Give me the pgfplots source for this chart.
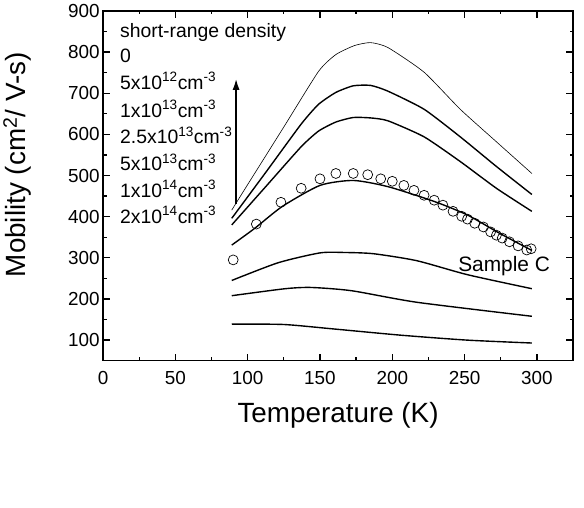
\documentclass[border=0pt]{standalone}
\usepackage{pgfplots}
\pgfplotsset{compat=1.18}
\usetikzlibrary{arrows.meta}
\usepackage{fontspec}
\setmainfont{Liberation Sans}
\begin{document}
\begin{tikzpicture}
\begin{axis}[
  scale only axis, width=473pt, height=352pt,
  xmin=0, xmax=325, ymin=50, ymax=900,
  xtick={0,50,...,300}, minor x tick num=1,
  ytick={100,200,...,900}, minor y tick num=1,
  major tick length=7pt, minor tick length=3.5pt,
  axis line style={line width=1.4pt},
  tick style={black, line width=1.3pt},
  tick label style={font=\fontsize{19}{22}\selectfont},
  xticklabel style={yshift=-7pt},
  /pgf/number format/assume math mode=true,
  xlabel={Temperature (K)},
  ylabel={Mobility (cm\textsuperscript{2}/ V-s)},
  label style={font=\fontsize{28}{31}\selectfont},
  xlabel style={at={(axis description cs:0.5,-0.156)}, anchor=center},
  ylabel style={at={(axis description cs:-0.182,0.56)}, anchor=center},
]
% tick marks on all four sides
\pgfplotsinvokeforeach{50,100,150,200,250,300}{
  \draw[black, line width=1.3pt] (axis cs:#1,50) -- ++(0pt,7pt);
  \draw[black, line width=1.3pt] (axis cs:#1,900) -- ++(0pt,-7pt);
}
\pgfplotsinvokeforeach{25,75,125,175,225,275}{
  \draw[black, line width=1.3pt] (axis cs:#1,50) -- ++(0pt,3.5pt);
  \draw[black, line width=1.3pt] (axis cs:#1,900) -- ++(0pt,-3.5pt);
}
\pgfplotsinvokeforeach{100,200,300,400,500,600,700,800}{
  \draw[black, line width=1.3pt] (axis cs:0,#1) -- ++(7pt,0pt);
  \draw[black, line width=1.3pt] (axis cs:325,#1) -- ++(-7pt,0pt);
}
\pgfplotsinvokeforeach{150,250,350,450,550,650,750,850}{
  \draw[black, line width=1.3pt] (axis cs:0,#1) -- ++(3.5pt,0pt);
  \draw[black, line width=1.3pt] (axis cs:325,#1) -- ++(-3.5pt,0pt);
}
% 0
\addplot[black, line width=0.6pt, smooth, tension=0.35] coordinates {(89,416)(100,478)(125,618)(149,753)(161,794)(174,816)(185,823)(197,811)(222,751)(247,661)(272,582)(296.5,505)};
% 5e12
\addplot[black, line width=1.4pt, smooth, tension=0.35] coordinates {(89,396)(113,510)(137,625)(149,673)(161,702)(173,718)(185,719)(197,705)(222,661)(247,594)(272,522)(296.5,454)};
% 1e13
\addplot[black, line width=1.4pt, smooth, tension=0.35] coordinates {(89,380)(113,475)(137,570)(149,608)(161,630)(173,641)(185,640)(197,633)(222,594)(247,534)(272,469)(296.5,413)};
% 2.5e13
\addplot[black, line width=1.4pt, smooth, tension=0.4] coordinates {(89,331)(105,372)(124,425)(150,476)(173,488)(197,473)(229,437)(252,404)(274,360)(296.5,318)};
% 5e13
\addplot[black, line width=1.4pt, smooth, tension=0.4] coordinates {(89,245)(121,288)(150,312)(167,313)(187,310)(217,293)(252,259)(296.5,225)};
% 1e14
\addplot[black, line width=1.4pt, smooth, tension=0.4] coordinates {(89,208)(126,225)(144,228)(172,220)(217,192)(296.5,158)};
% 2e14
\addplot[black, line width=1.4pt, smooth, tension=0.4] coordinates {(89,139)(125,138)(160,127)(206,112)(252,100)(296.5,93)};
% Sample C data
\addplot[only marks, mark=o, mark size=5pt, mark options={black, line width=0.7pt, fill=white}] coordinates {
(90,295)(106,382)(123,435)(137,469)(150,492)(161,505)(173,505)(183,502)(192,492)(200,486)(208,476)(215,464)(222,452)(229,440)(235,428)(242,413)(248,401)(252,394)(257,384)(263,375)(268,363)(272,355)(276,348)(281,339)(287,329)(293,319)(296,322)};
\draw[-{Latex[length=11pt,width=7pt]}, line width=1.6pt] (axis cs:92,430) -- (axis cs:92,735);
\begin{scope}[every node/.style={anchor=base west, inner sep=0pt, font=\fontsize{19.5}{22}\selectfont}]
\node at (axis cs:11.7,835) {short-range density};
\node at (axis cs:11.7,773.5) {0};
\node at (axis cs:11.7,710) {5x10\textsuperscript{12}cm\textsuperscript{-3}};
\node at (axis cs:11.7,642) {1x10\textsuperscript{13}cm\textsuperscript{-3}};
\node at (axis cs:11.7,577) {2.5x10\textsuperscript{13}cm\textsuperscript{-3}};
\node at (axis cs:11.7,512) {5x10\textsuperscript{13}cm\textsuperscript{-3}};
\node at (axis cs:11.7,447) {1x10\textsuperscript{14}cm\textsuperscript{-3}};
\node at (axis cs:11.7,384) {2x10\textsuperscript{14}cm\textsuperscript{-3}};
\end{scope}
\node[anchor=base west, inner sep=0pt, font=\fontsize{21}{24}\selectfont] at (axis cs:245.5,266) {Sample C};
\end{axis}
\path (current axis.south west) ++(-100pt,-148pt) coordinate (bbA);
\path (current axis.north east) ++(11pt,11pt) coordinate (bbB);
\path (bbA) rectangle (bbB);
\end{tikzpicture}
\end{document}
